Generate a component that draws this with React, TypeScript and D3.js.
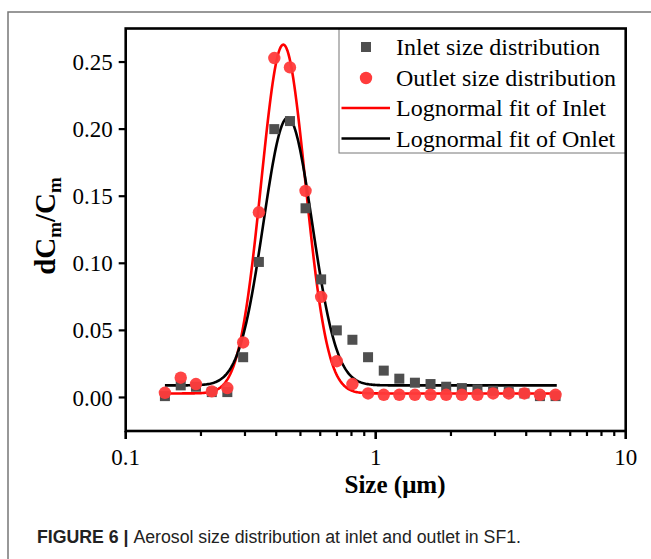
import React from "react";
import * as d3 from "d3";

// Particle size channels (µm)
const sizes = [0.1435, 0.166, 0.191, 0.221, 0.255, 0.295, 0.341, 0.393, 0.454, 0.524, 0.605, 0.699, 0.807, 0.932, 1.077, 1.243, 1.435, 1.657, 1.914, 2.211, 2.553, 2.949, 3.406, 3.934, 4.538, 5.241];
// Inlet size distribution (dCm/Cm)
const inletValues = [0.001, 0.009, 0.008, 0.004, 0.004, 0.030, 0.101, 0.200, 0.206, 0.141, 0.088, 0.050, 0.043, 0.030, 0.020, 0.014, 0.011, 0.010, 0.008, 0.007, 0.006, 0.005, 0.004, 0.003, 0.001, 0.001];
// Outlet size distribution (dCm/Cm)
const outletValues = [0.0035, 0.0147, 0.010, 0.0045, 0.007, 0.041, 0.138, 0.253, 0.246, 0.154, 0.075, 0.027, 0.010, 0.003, 0.002, 0.002, 0.002, 0.002, 0.002, 0.002, 0.002, 0.003, 0.003, 0.003, 0.002, 0.002];

// Lognormal fit parameters: baseline, peak height, centre (µm), width (log10 decades)
const fitRed = { y0: 0.003, h: 0.260, xc: 0.427, s: 0.0882 };
const fitBlack = { y0: 0.009, h: 0.1995, xc: 0.445, s: 0.0975 };
const fitRange = [0.1435, 5.3];

const xTickValues = [0.1, 1, 10];
const xTickLabels = ["0.1", "1", "10"];
const yTickValues = [0, 0.05, 0.1, 0.15, 0.2, 0.25];

const legendItems = [
  "Inlet size distribution",
  "Outlet size distribution",
  "Lognormal fit of Inlet",
  "Lognormal fit of Onlet",
];

const W = 651;
const H = 559;
const left = 125.7, right = 625.7, top = 28.5, bottom = 431;

export default function App() {
  const x = d3.scaleLog().domain([0.1, 10]).range([left, right]);
  const y = d3.scaleLinear().domain([-0.025, 0.275]).range([bottom, top]);

  const fitFn = (p: typeof fitRed) => (v: number) =>
    p.y0 + p.h * Math.exp(-Math.pow(Math.log10(v / p.xc), 2) / (2 * p.s * p.s));
  const lo = Math.log10(fitRange[0]);
  const hi = Math.log10(fitRange[1]);
  const xs = d3.range(0, 401).map((i) => Math.pow(10, lo + (i / 400) * (hi - lo)));
  const redPath =
    d3.line<number>().x((v) => x(v)).y((v) => y(fitFn(fitRed)(v)))(xs) || "";
  const blackPath =
    d3.line<number>().x((v) => x(v)).y((v) => y(fitFn(fitBlack)(v)))(xs) || "";

  const minorTicks: number[] = [];
  [0.1, 1].forEach((dec) => {
    for (let k = 2; k <= 9; k++) minorTicks.push(dec * k);
  });

  const serif = "'Liberation Serif', 'Times New Roman', serif";
  const red = "#ff3b3b";
  const grey = "#4f4f4f";

  return (
    <svg width={W} height={H} style={{ position: "absolute", left: 0, top: 0, background: "#fff" }}>
      {/* outer frame */}
      <rect x={8} y={12} width={700} height={600} fill="none" stroke="#777" strokeWidth={1.5} />

      {/* legend box */}
      <rect x={339} y={top} width={right - 339} height={153 - top} fill="#fff" stroke="#777" strokeWidth={1} />

      {/* fit lines */}
      <path d={redPath} fill="none" stroke="#ff0000" strokeWidth={2.6} />
      <path d={blackPath} fill="none" stroke="#000" strokeWidth={2.6} />

      {/* inlet squares */}
      {sizes.map((s, i) => (
        <rect key={"sq" + i} x={x(s) - 5} y={y(inletValues[i]) - 5} width={10} height={10} fill={grey} />
      ))}
      {/* outlet circles */}
      {sizes.map((s, i) => (
        <circle key={"c" + i} cx={x(s)} cy={y(outletValues[i])} r={6.2} fill={red} fillOpacity={0.95} />
      ))}

      {/* axes frame */}
      <rect x={left} y={top} width={right - left} height={bottom - top} fill="none" stroke="#000" strokeWidth={2.6} />

      {/* y ticks */}
      {yTickValues.map((v) => (
        <g key={"yt" + v}>
          <line x1={left - 7} x2={left} y1={y(v)} y2={y(v)} stroke="#000" strokeWidth={2.2} />
          <text x={left - 13} y={y(v)} dy="0.35em" textAnchor="end" fontFamily={serif} fontSize={23}>
            {v.toFixed(2)}
          </text>
        </g>
      ))}

      {/* x ticks */}
      {xTickValues.map((v, i) => (
        <g key={"xt" + v}>
          <line x1={x(v)} x2={x(v)} y1={bottom} y2={bottom + 8} stroke="#000" strokeWidth={2.6} />
          <text x={x(v)} y={bottom + 34} textAnchor="middle" fontFamily={serif} fontSize={23}>
            {xTickLabels[i]}
          </text>
        </g>
      ))}
      {minorTicks.map((v) => (
        <line key={"mt" + v} x1={x(v)} x2={x(v)} y1={bottom} y2={bottom + 5} stroke="#000" strokeWidth={2.2} />
      ))}

      {/* axis titles */}
      <text x={395} y={493} textAnchor="middle" fontFamily={serif} fontSize={25} fontWeight="bold">
        Size (μm)
      </text>
      <text
        transform={`translate(55, 226) rotate(-90)`}
        textAnchor="middle"
        fontFamily={serif}
        fontSize={29}
        fontWeight="bold"
      >
        dC<tspan fontSize={19} dy={6}>m</tspan>
        <tspan dy={-6}>/C</tspan>
        <tspan fontSize={19} dy={6}>m</tspan>
      </text>

      {/* legend */}
      <rect x={361} y={42} width={10} height={10} fill={grey} />
      <circle cx={366} cy={78} r={6.2} fill={red} />
      <line x1={341.5} x2={390} y1={108} y2={108} stroke="#ff0000" strokeWidth={2.6} />
      <line x1={341.5} x2={390} y1={138.5} y2={138.5} stroke="#000" strokeWidth={2.6} />
      {legendItems.map((t, i) => (
        <text key={t} x={396} y={55 + i * 30.5} fontFamily={serif} fontSize={24}>
          {t}
        </text>
      ))}

      {/* caption */}
      <text
        x={37}
        y={543}
        fontFamily="'Liberation Sans', Arial, sans-serif"
        fontSize={18}
        fill="#222"
        textLength={484}
        lengthAdjust="spacingAndGlyphs"
      >
        <tspan fontWeight="bold">FIGURE 6 | </tspan>
        <tspan>Aerosol size distribution at inlet and outlet in SF1.</tspan>
      </text>
    </svg>
  );
}
